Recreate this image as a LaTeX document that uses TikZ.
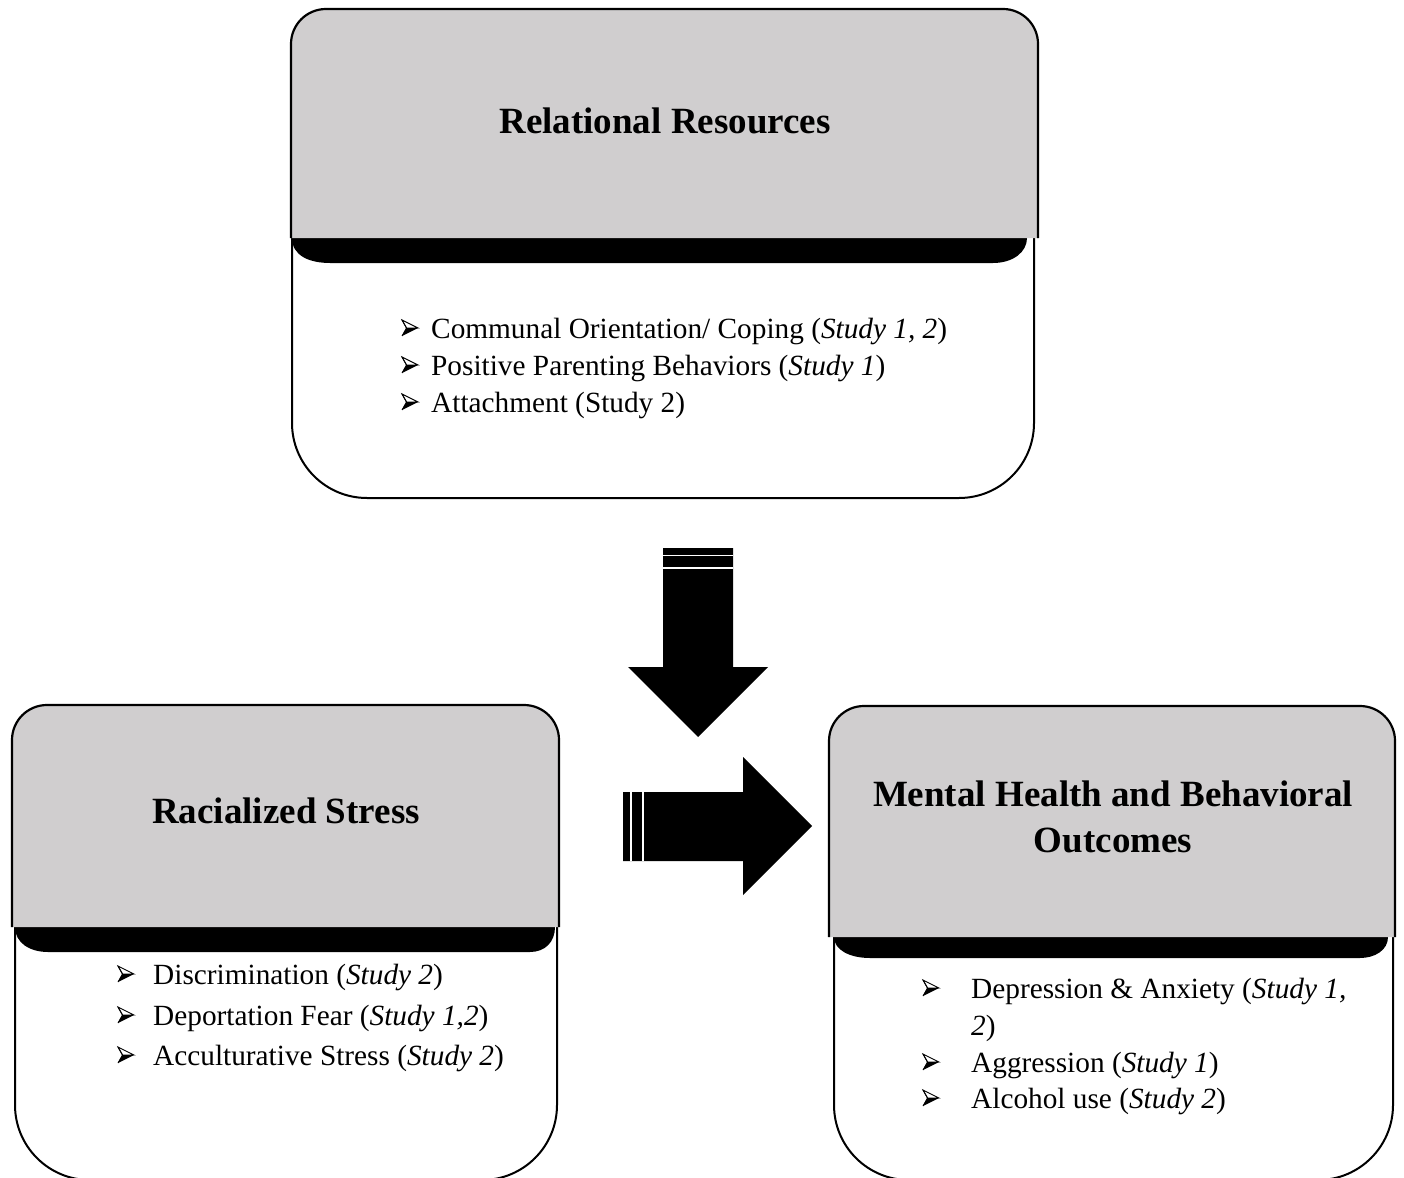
\documentclass[tikz,border=0pt]{standalone}
\usepackage{fontspec}
\setmainfont{Liberation Serif}
\definecolor{headgray}{RGB}{208,206,207}
\begin{document}
\begin{tikzpicture}[x=1pt,y=-1pt,
  headbox/.style={draw=black, line width=2.2pt, fill=headgray, rounded corners=35pt},
  bodybox/.style={draw=black, line width=2pt, fill=white, rounded corners=75pt},
  shadowband/.style={fill=black},
  blockarrow/.style={fill=black},
  stripe/.style={draw=white, line width=1.3pt},
  titletext/.style={font=\fontsize{37}{46}\selectfont\bfseries, align=center, inner sep=0pt},
  itemtext/.style={font=\fontsize{29.3}{37}\selectfont, anchor=base west, inner sep=0pt},
  arrowbullet/.pic={
    % shaded arrowhead bullet: outlined upper half, solid lower half
    \draw[line width=0.9pt, line join=miter, fill=white] (-8,-8) -- (8,0) -- (-3.5,0) -- cycle;
    \fill[black] (-3.5,0) -- (8,0) -- (-8,8) -- cycle;
    \draw[line width=0.9pt, line join=miter] (-8,-8) -- (-3.5,0) -- (-8,8);
  }]
\useasboundingbox (0,0) rectangle (1404,1177);

% top box: Relational Resources
\draw[bodybox] (292,238) -- (292,498) -- (1034,498) -- (1034,238);
\fill[shadowband] (292,238) .. controls (292,256) and (310,263) .. (330,263) -- (993,263)
  .. controls (1013,263) and (1027,252) .. (1027,238) -- cycle;
\draw[headbox] (291,238) -- (291,9) -- (1038,9) -- (1038,238);

% lower left box: Racialized Stress
\draw[bodybox] (15,927) -- (15,1180) -- (557,1180) -- (557,927);
\fill[shadowband] (15,927) .. controls (15,943) and (30,952) .. (48,952) -- (530,952)
  .. controls (545,952) and (555,942) .. (555,927) -- cycle;
\draw[headbox] (12,927) -- (12,705) -- (559,705) -- (559,927);

% lower right box: outcomes
\draw[bodybox] (834,937) -- (834,1180) -- (1393,1180) -- (1393,937);
\fill[shadowband] (834,937) .. controls (834,950) and (850,958) .. (870,958) -- (1360,958)
  .. controls (1375,958) and (1388,950) .. (1388,937) -- cycle;
\draw[headbox] (829,937) -- (829,706) -- (1395,706) -- (1395,937);

% block arrows
\fill[blockarrow] (663,548) -- (733,548) -- (733,667) -- (768,667) -- (698,737)
  -- (628,667) -- (663,667) -- cycle;
\draw[stripe] (663,555.5) -- (733,555.5) (663,568) -- (733,568);
\fill[blockarrow] (623,792) -- (743,792) -- (743,757) -- (812,826) -- (743,895)
  -- (743,861) -- (623,861) -- cycle;
\draw[stripe] (631,792) -- (631,861) (643,792) -- (643,861);

% titles
\node[titletext] (rrtitle) at (665,121) {Relational Resources};
\node[titletext] (rstitle) at (286,811) {Racialized Stress};
\node[titletext] (mhtitle) at (1113,817) {Mental Health and Behavioral\\Outcomes};

% relational resources items
\pic at (410,328) {arrowbullet};
\node[itemtext] (rri1) at (431,338) {Communal Orientation/ Coping (\textit{Study 1, 2})};
\pic at (410,365) {arrowbullet};
\node[itemtext] (rri2) at (431,375) {Positive Parenting Behaviors (\textit{Study 1})};
\pic at (410,402) {arrowbullet};
\node[itemtext] (rri3) at (431,412) {Attachment (Study 2)};

% racialized stress items
\pic at (126,974) {arrowbullet};
\node[itemtext] (rsi1) at (153,984) {Discrimination (\textit{Study 2})};
\pic at (126,1015) {arrowbullet};
\node[itemtext] (rsi2) at (153,1025) {Deportation Fear (\textit{Study 1,2})};
\pic at (126,1055) {arrowbullet};
\node[itemtext] (rsi3) at (153,1065) {Acculturative Stress (\textit{Study 2})};

% outcome items
\pic at (931,988) {arrowbullet};
\node[itemtext] (mhi1) at (971,998) {Depression \& Anxiety (\textit{Study 1,}};
\node[itemtext] (mhi1b) at (971,1035) {\textit{2})};
\pic at (931,1062) {arrowbullet};
\node[itemtext] (mhi2) at (971,1072) {Aggression (\textit{Study 1})};
\pic at (931,1098) {arrowbullet};
\node[itemtext] (mhi3) at (971,1108) {Alcohol use (\textit{Study 2})};
\end{tikzpicture}
\end{document}
